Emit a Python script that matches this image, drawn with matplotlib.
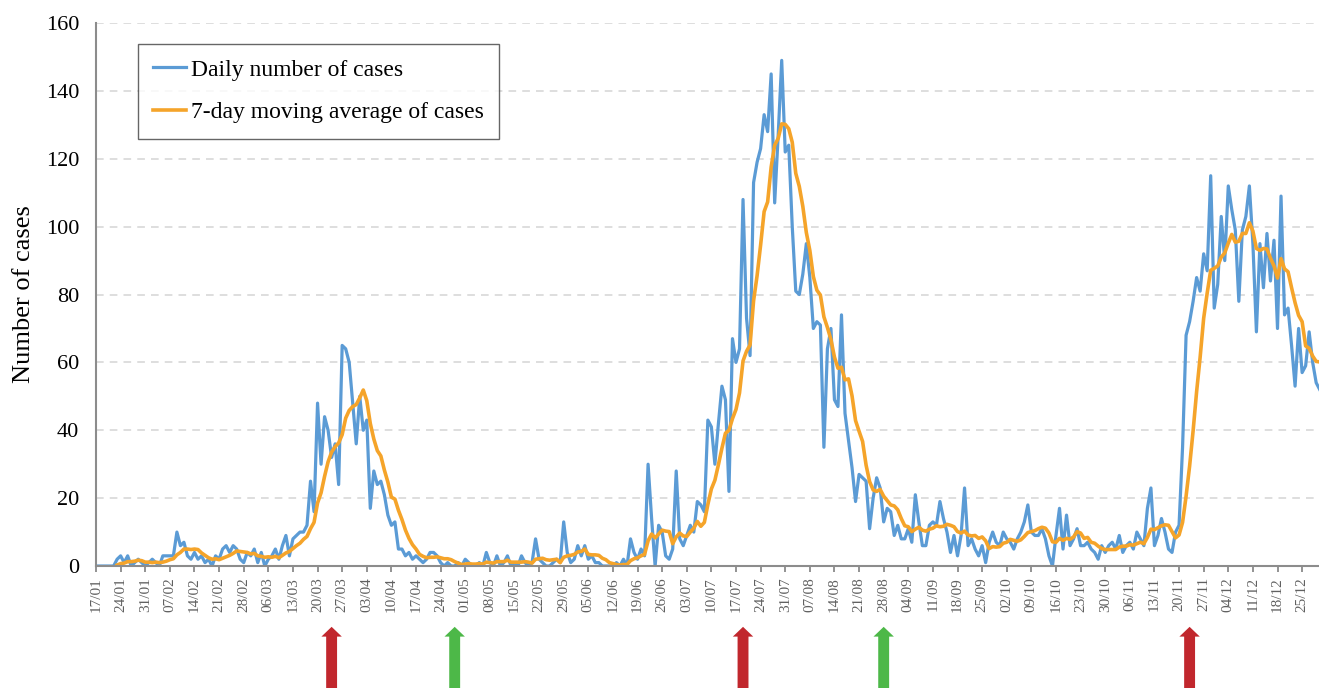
import numpy as np
import pandas as pd
import matplotlib
matplotlib.use("Agg")
import matplotlib.pyplot as plt
from matplotlib.transforms import blended_transform_factory

# daily counts from 17/01/2020, one row per week
daily_cases = [
    0, 0, 0, 0, 0, 0, 2,
    3, 1, 3, 0, 1, 2, 1,
    0, 1, 2, 1, 0, 3, 3,
    3, 3, 10, 6, 7, 3, 2,
    4, 2, 3, 1, 2, 0, 3,
    2, 5, 6, 4, 6, 5, 2,
    1, 4, 3, 5, 1, 4, 0,
    2, 3, 5, 2, 6, 9, 3,
    8, 9, 10, 10, 12, 25, 16,
    48, 30, 44, 40, 32, 36, 24,
    65, 64, 60, 48, 36, 50, 40,
    43, 17, 28, 24, 25, 21, 15,
    12, 13, 5, 5, 3, 4, 2,
    3, 2, 1, 2, 4, 4, 3,
    1, 0, 1, 0, 0, 1, 0,
    2, 1, 0, 0, 1, 0, 4,
    1, 0, 3, 0, 1, 3, 0,
    1, 0, 3, 1, 0, 1, 8,
    2, 1, 0, 0, 1, 2, 1,
    13, 4, 1, 2, 6, 3, 6,
    2, 3, 1, 1, 0, 0, 0,
    0, 1, 0, 2, 0, 8, 4,
    2, 5, 3, 30, 14, 0, 12,
    10, 3, 2, 5, 28, 8, 6,
    9, 12, 10, 19, 18, 16, 43,
    41, 30, 42, 53, 49, 22, 67,
    60, 64, 108, 73, 62, 113, 119,
    123, 133, 128, 145, 107, 127, 149,
    122, 124, 100, 81, 80, 86, 95,
    85, 70, 72, 71, 35, 64, 70,
    49, 47, 74, 45, 37, 29, 19,
    27, 26, 25, 11, 20, 26, 23,
    13, 17, 16, 9, 12, 8, 8,
    11, 7, 21, 13, 6, 6, 12,
    13, 12, 19, 14, 10, 4, 9,
    3, 9, 23, 6, 8, 5, 3,
    6, 1, 7, 10, 7, 6, 10,
    8, 7, 5, 8, 10, 13, 18,
    10, 9, 9, 11, 8, 3, 0,
    9, 17, 5, 15, 6, 8, 11,
    6, 6, 7, 5, 4, 2, 6,
    4, 6, 7, 5, 9, 4, 6,
    7, 5, 10, 8, 6, 17, 23,
    6, 9, 14, 10, 5, 4, 10,
    12, 35, 68, 72, 78, 85, 81,
    92, 87, 115, 76, 83, 103, 90,
    112, 105, 99, 78, 99, 103, 112,
    95, 69, 95, 82, 98, 84, 96,
    70, 109, 74, 76, 65, 53, 70,
    57, 59, 69, 60, 54, 52,
]
start_date = "2020-01-17"

# measures marked under the axis
event_dates = ["2020-03-24", "2020-04-28", "2020-07-19", "2020-08-28", "2020-11-23"]
event_kinds = ["tighten", "ease", "tighten", "ease", "tighten"]

dates = pd.date_range(start_date, periods=len(daily_cases))
days = np.arange(len(daily_cases))
moving_avg = pd.Series(daily_cases).rolling(7).mean()

plt.rcParams["font.family"] = ["Liberation Serif", "DejaVu Serif"]

fig = plt.figure(figsize=(13.19, 6.88), dpi=100)
ax = fig.add_axes([0.0728, 0.1773, 0.9272, 0.7892])

ax.plot(days, daily_cases, color="#5B9BD5", lw=2.3, label="Daily number of cases")
ax.plot(days, moving_avg, color="#F5A42A", lw=2.6, label="7-day moving average of cases")

ax.set_xlim(0, 347.8)
ax.set_ylim(0, 160)
ax.set_yticks(range(0, 161, 20))
ax.set_xticks(days[::7])
ax.set_xticklabels(dates[::7].strftime("%d/%m"), rotation=90, color="#606060", fontsize=11)
ax.tick_params(axis="x", length=4, width=1.2, color="#808080", pad=4)
ax.tick_params(axis="y", length=0, pad=12, labelsize=16)

ax.grid(axis="y", color="#D4D4D4", ls=(0, (5, 4)), lw=1.1)
ax.set_axisbelow(True)
for s in ["top", "right"]:
    ax.spines[s].set_visible(False)
for s in ["left", "bottom"]:
    ax.spines[s].set_color("#8C8C8C")
    ax.spines[s].set_linewidth(1.5)

ax.set_ylabel("Number of cases", fontsize=19, labelpad=8)

leg = ax.legend(loc="upper left", bbox_to_anchor=(0.034, 0.962), borderaxespad=0,
                fontsize=17, fancybox=False, edgecolor="#404040",
                handlelength=1.4, handletextpad=0.2, labelspacing=0.9,
                borderpad=0.65)
leg.get_frame().set_linewidth(1.0)

# arrows under the x axis
kind_colors = {"tighten": "#C1272D", "ease": "#4DB848"}
trans = blended_transform_factory(ax.transData, ax.transAxes)
for d, k in zip(event_dates, event_kinds):
    x = (pd.Timestamp(d) - pd.Timestamp(start_date)).days
    ax.arrow(x, -0.27, 0, 0.158, width=3.1, head_width=5.8, head_length=0.018,
             length_includes_head=True, transform=trans, clip_on=False,
             color=kind_colors[k], lw=0)

fig.savefig("out.png", dpi=100)
